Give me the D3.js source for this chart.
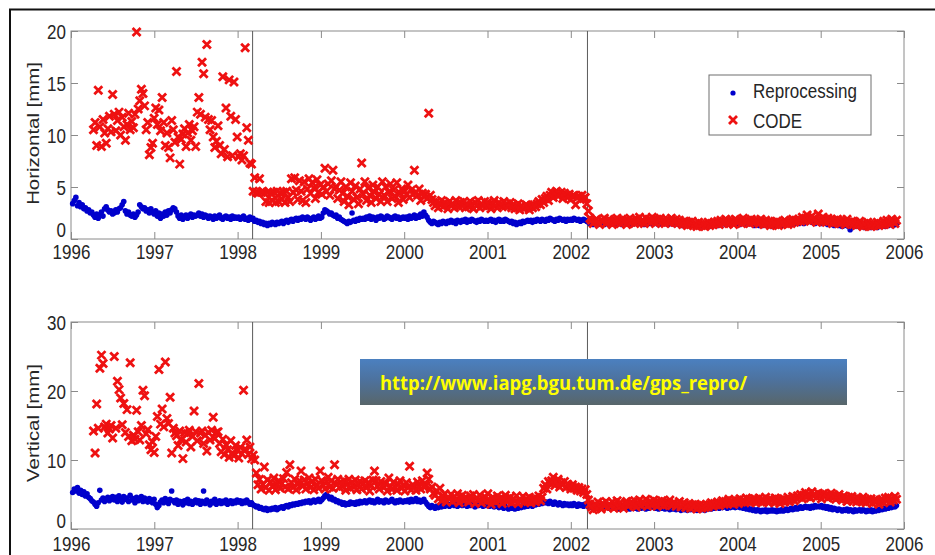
<!DOCTYPE html>
<html><head><meta charset="utf-8">
<script src="https://cdn.jsdelivr.net/npm/d3@7"></script>
<style>html,body{margin:0;padding:0;background:#fff;overflow:hidden}</style>
</head><body><svg id="chart" width="935" height="555"></svg>
<script>
// ---- data (weekly solutions, mm) ----
const weekStep = 7 / 365.25;        // one GPS week in years
const reproStart = 1996.02;         // first Reprocessing epoch
const codeStart = 1996.27;          // first CODE epoch
const yearTicks = [1996,1997,1998,1999,2000,2001,2002,2003,2004,2005,2006];
const horizTicks = [0,5,10,15,20];
const vertTicks = [0,10,20,30];
const breakEpochs = [1998.18, 2002.2];
const seriesNames = ["Reprocessing", "CODE"];
const urlText = "http://www.iapg.bgu.tum.de/gps_repro/";

const horizRepro = [
3.4,3.7,4.0,3.2,3.5,3.1,3.3,2.9,3.0,2.7,2.8,2.5,2.6,2.3,2.1,2.4,2.0,2.3,2.6,2.2,2.9,3.1,2.8,2.6,2.7,2.4,
2.5,2.8,2.6,2.9,3.0,3.3,3.6,2.7,2.4,2.6,2.3,2.2,2.4,2.1,2.3,2.6,3.3,3.1,2.9,3.0,2.7,2.8,2.5,2.9,2.6,2.4,
2.7,2.2,2.5,2.0,2.4,2.2,2.6,2.3,2.7,2.5,2.8,3.0,2.9,2.6,2.2,2.0,2.3,1.9,2.1,2.3,2.0,2.2,2.4,2.1,2.3,2.2,
2.3,2.5,2.2,2.4,2.1,2.3,2.2,2.0,2.2,2.1,1.9,2.2,2.0,2.1,2.3,2.0,1.9,2.1,2.2,2.0,2.1,1.9,2.2,2.0,2.1,2.0,
2.1,1.9,2.0,2.2,1.9,2.0,1.8,2.1,1.9,2.0,1.7,1.8,1.6,1.7,1.5,1.6,1.4,1.5,1.3,1.5,1.4,1.6,1.5,1.4,1.6,1.5,
1.6,1.7,1.5,1.7,1.8,1.6,1.8,1.9,1.7,1.9,2.0,1.8,2.0,1.9,2.1,2.0,1.9,2.1,2.0,1.8,2.0,2.1,1.9,2.0,2.2,2.0,
2.1,2.5,2.8,2.7,2.6,2.4,2.5,2.3,2.2,2.3,2.0,2.1,1.9,1.8,1.7,1.6,1.5,1.7,1.6,2.5,1.8,1.7,1.9,1.8,2.0,1.9,
2.0,1.9,2.1,2.0,2.2,1.9,2.1,2.0,1.8,2.1,2.0,2.2,2.1,1.9,2.0,2.2,2.1,2.0,1.9,2.1,2.2,2.0,2.1,1.9,2.0,2.1,
2.0,2.1,1.9,2.2,2.0,2.1,2.3,2.0,2.2,2.1,2.4,2.2,2.6,2.3,2.1,1.8,1.6,1.5,1.7,1.6,1.5,1.4,1.6,1.5,1.7,1.6,
1.5,1.7,1.6,1.8,1.6,1.7,1.5,1.8,1.7,1.6,1.8,1.7,1.9,1.6,1.8,1.7,1.9,1.8,1.7,1.6,1.8,1.7,1.9,1.8,1.7,1.8,
1.7,1.8,1.9,1.7,1.8,1.6,1.8,1.9,1.7,1.8,1.7,1.9,1.8,1.7,1.6,1.7,1.5,1.6,1.4,1.5,1.6,1.5,1.7,1.6,1.7,1.8,
1.7,1.8,1.6,1.8,1.7,1.9,1.8,1.7,1.9,1.8,1.7,1.9,1.8,2.0,1.9,1.8,1.7,1.9,1.8,2.0,1.9,1.8,1.9,1.7,1.9,1.8,
1.9,1.8,2.0,1.9,1.8,1.9,1.7,1.8,1.9,1.8,1.7,1.6,1.5,1.6,1.4,1.5,1.6,1.4,1.5,1.6,1.5,1.4,1.6,1.5,1.4,1.5,
1.5,1.6,1.4,1.5,1.6,1.5,1.4,1.6,1.5,1.7,1.5,1.6,1.4,1.5,1.6,1.5,1.7,1.6,1.5,1.6,1.4,1.5,1.6,1.5,1.6,1.5,
1.5,1.6,1.5,1.4,1.6,1.5,1.7,1.5,1.6,1.4,1.5,1.6,1.5,1.4,1.6,1.5,1.4,1.5,1.3,1.4,1.5,1.4,1.3,1.5,1.4,1.3,
1.4,1.3,1.2,1.4,1.3,1.2,1.3,1.4,1.3,1.2,1.4,1.3,1.5,1.4,1.3,1.5,1.4,1.6,1.5,1.4,1.6,1.5,1.4,1.5,1.6,1.5,
1.5,1.6,1.4,1.5,1.6,1.5,1.4,1.5,1.6,1.5,1.4,1.3,1.5,1.4,1.3,1.4,1.3,1.5,1.4,1.3,1.4,1.3,1.2,1.4,1.3,1.4,
1.3,1.4,1.3,1.5,1.4,1.5,1.6,1.5,1.4,1.6,1.5,1.7,1.6,1.5,1.7,1.6,1.5,1.7,1.6,1.8,1.7,1.6,1.7,1.5,1.6,1.7,
1.6,1.5,1.7,1.6,1.5,1.4,1.6,1.5,1.4,1.3,1.5,1.4,1.3,1.4,1.2,1.3,1.4,1.3,1.2,0.9,1.3,1.4,1.2,1.3,1.2,1.3,
1.2,1.3,1.1,1.2,1.3,1.2,1.1,1.2,1.3,1.2,1.1,1.3,1.2,1.4,1.3,1.2,1.4,1.3,1.5,1.4,1.3,1.5,1.4
];

const horizCode = [
10.5,11.2,9.0,14.3,10.8,8.9,11.5,10.2,9.2,10.6,11.8,10.3,13.9,12.0,10.4,11.4,12.2,10.0,11.7,10.8,9.5,11.0,12.1,10.5,11.3,10.7,
12.0,19.9,12.5,13.3,14.4,14.0,12.8,10.5,11.2,8.1,8.8,9.2,11.6,12.6,11.0,12.4,10.4,13.6,11.2,9.0,10.2,8.8,7.8,11.4,10.5,9.3,
16.1,9.8,7.2,9.6,10.1,10.6,8.9,10.2,11.0,9.5,10.4,10.8,8.9,12.2,13.6,12.0,17.0,15.9,11.7,18.7,11.5,10.5,11.4,9.8,8.8,9.4,
10.9,9.0,8.2,15.6,8.6,12.6,7.9,15.3,11.8,8.0,15.1,11.5,9.8,7.9,8.2,7.6,8.0,18.4,10.7,9.5,7.3,7.2,4.6,5.9,4.5,4.4,
5.8,4.5,4.6,4.4,3.6,4.5,3.5,4.4,3.7,4.5,3.5,4.6,3.6,4.4,3.8,4.5,3.5,4.6,4.0,3.6,5.8,4.5,5.9,4.7,3.8,5.6,
4.6,3.7,5.5,3.5,4.8,5.8,4.4,5.4,4.9,3.9,5.7,4.5,5.2,4.3,5.0,6.8,4.6,5.3,4.2,5.6,6.6,4.8,5.0,3.9,4.7,5.5,
4.4,3.6,5.0,4.1,3.3,5.4,4.6,3.8,5.1,4.0,3.4,4.8,7.3,4.3,5.5,3.7,4.9,4.2,3.5,5.2,4.5,3.9,5.0,4.3,3.6,5.5,
4.2,5.0,3.6,4.5,5.3,3.9,4.7,4.1,5.4,3.5,4.4,4.8,3.8,4.6,4.3,5.2,4.0,4.7,4.3,6.6,4.5,4.2,4.8,3.7,4.4,4.1,
4.3,3.9,12.1,4.2,3.8,3.5,3.2,3.6,3.0,3.4,3.7,3.1,3.5,3.3,2.9,3.6,3.2,3.4,3.0,3.7,3.3,3.1,3.5,3.2,3.6,3.0,
3.4,3.1,3.6,3.3,2.9,3.5,3.2,3.7,3.0,3.4,3.2,3.6,3.1,3.5,3.3,2.9,3.4,3.7,3.2,3.0,3.5,3.3,3.1,3.6,3.2,3.4,
3.2,3.5,3.0,3.3,2.9,3.1,3.4,2.8,3.2,3.0,2.9,3.3,3.1,2.8,3.2,3.0,3.3,3.1,3.4,3.6,3.3,3.8,3.5,3.9,4.1,3.7,
4.2,4.5,4.0,4.4,4.6,4.1,4.3,4.5,3.9,4.4,4.2,4.0,4.3,3.8,4.1,4.2,3.3,4.0,4.1,3.8,4.2,3.9,4.0,3.4,2.7,2.0,
1.8,1.5,1.7,1.9,1.6,1.4,1.8,1.7,2.0,1.5,1.6,1.9,1.7,1.4,1.8,1.6,2.0,1.7,1.5,1.9,1.6,1.8,1.4,1.7,2.0,1.6,
1.8,1.5,1.9,1.7,2.1,1.6,1.8,1.5,2.0,1.7,1.9,1.6,2.1,1.8,1.5,1.9,1.7,2.0,1.6,1.8,1.5,1.9,1.7,1.6,2.0,1.7,
1.6,1.9,1.5,1.8,1.6,1.4,1.7,1.5,1.3,1.6,1.4,1.7,1.3,1.5,1.2,1.6,1.4,1.3,1.5,1.2,1.4,1.6,1.3,1.5,1.4,1.6,
1.5,1.7,1.4,1.8,1.6,1.5,1.9,1.7,1.5,1.8,1.6,1.4,1.9,1.7,1.6,1.8,1.5,2.0,1.7,1.6,1.8,1.5,1.9,1.7,1.6,1.8,
1.7,1.5,1.9,1.6,1.4,1.8,1.5,1.7,1.3,1.6,1.4,1.5,1.7,1.3,1.6,1.4,1.5,1.8,1.6,1.4,1.7,1.5,1.9,1.6,1.8,1.7,
1.9,1.7,2.1,1.8,2.0,2.3,1.9,1.7,2.2,1.8,2.0,1.6,2.4,1.9,1.7,2.1,1.8,1.6,2.0,1.7,1.9,1.5,1.8,1.6,1.9,1.7,
1.5,1.8,1.6,1.4,1.9,1.6,1.5,1.7,1.4,1.6,1.3,1.5,1.7,1.4,1.2,1.5,1.3,1.6,1.4,1.2,1.5,1.3,1.4,1.6,1.3,1.5,
1.4,1.7,1.5,1.8,1.6,1.4,1.9,1.7,1.5,1.8
];

const vertRepro = [
5.3,5.8,5.5,6.0,5.2,5.6,5.0,5.4,4.8,5.1,4.6,4.4,4.1,3.9,3.6,3.3,3.8,5.6,4.2,4.5,4.0,4.3,4.6,4.1,4.4,4.7,
4.2,4.6,4.0,4.8,4.4,3.9,4.7,4.3,4.5,4.0,4.9,4.2,4.4,3.8,4.6,4.1,4.3,4.7,4.0,4.5,4.2,3.9,4.4,4.1,3.8,4.3,
3.6,3.1,3.4,3.9,4.2,3.8,4.4,4.0,3.7,4.3,5.5,4.1,3.8,4.2,3.6,4.0,3.9,3.5,4.1,3.8,4.3,3.7,4.0,3.6,3.9,4.2,
3.8,4.1,3.6,4.0,5.5,3.7,4.2,3.9,3.5,4.0,3.8,4.3,3.6,3.9,4.1,3.7,4.0,3.8,4.2,3.6,3.9,4.1,3.7,4.0,3.8,4.2,
3.9,4.1,3.7,4.0,3.8,4.2,3.9,3.6,3.8,3.5,3.4,3.2,3.3,3.0,3.1,2.9,2.8,3.0,2.7,2.9,2.8,3.0,2.9,3.1,2.8,3.0,
3.1,3.2,3.0,3.3,3.4,3.2,3.5,3.4,3.6,3.5,3.7,3.6,3.8,3.7,3.9,3.8,4.0,3.9,4.1,3.8,4.0,4.2,3.9,4.1,4.3,4.0,
4.2,4.5,4.8,5.0,4.7,4.4,4.6,4.2,4.3,4.0,4.1,3.8,3.9,3.6,3.8,3.5,3.7,3.6,3.9,3.7,3.8,3.6,3.9,3.7,4.0,3.8,
3.9,4.1,3.8,4.0,4.2,3.9,4.1,3.8,4.0,4.3,3.9,4.1,4.0,3.8,4.2,4.0,3.9,4.1,4.3,4.0,3.8,4.1,3.9,4.2,4.0,3.9,
4.1,4.0,4.2,3.9,4.3,4.0,4.1,4.4,4.0,4.2,3.9,4.1,4.3,3.9,3.6,3.3,3.1,3.4,3.2,3.0,3.3,3.1,3.4,3.2,3.5,3.3,
3.4,3.6,3.3,3.5,3.7,3.4,3.6,3.3,3.5,3.8,3.4,3.6,3.5,3.3,3.7,3.4,3.6,3.5,3.2,3.6,3.4,3.7,3.5,3.3,3.6,3.4,
3.5,3.3,3.6,3.4,3.2,3.5,3.3,3.1,3.4,3.2,3.0,3.3,3.1,2.9,3.2,3.0,3.1,2.9,3.2,3.0,3.3,3.1,3.4,3.2,3.5,3.3,
3.4,3.6,3.3,3.7,3.5,3.8,3.6,3.9,3.7,4.0,3.8,3.9,3.7,4.0,3.8,3.6,3.9,3.7,3.5,3.8,3.6,3.4,3.7,3.5,3.6,3.4,
3.6,3.4,3.7,3.5,3.3,3.6,3.4,3.5,3.3,3.6,3.4,3.2,3.3,3.1,3.4,3.2,3.0,3.3,3.1,3.2,3.4,3.1,3.3,3.2,3.0,3.3,
3.2,3.0,3.3,3.1,2.9,3.2,3.0,3.3,3.1,3.0,3.2,2.9,3.1,3.3,3.0,3.2,2.9,3.1,3.0,3.2,3.1,2.9,3.2,3.0,3.1,3.3,
3.1,3.0,3.2,2.9,3.1,3.0,3.2,2.9,3.0,3.1,2.8,3.0,2.9,3.1,2.8,3.0,2.9,2.7,3.0,2.8,2.9,2.7,3.0,2.8,2.9,2.8,
2.9,2.7,2.8,3.0,2.8,2.9,2.7,3.0,2.9,3.1,2.9,3.2,3.0,3.1,3.3,3.0,3.2,3.1,3.3,3.2,3.0,3.3,3.1,3.2,3.4,3.1,
3.2,3.3,3.1,3.2,3.0,3.1,2.9,3.0,2.8,2.9,2.7,2.8,2.6,2.8,2.7,2.5,2.7,2.6,2.8,2.5,2.7,2.6,2.8,2.6,2.7,2.5,
2.7,2.6,2.8,2.6,2.7,2.9,2.7,2.8,3.0,2.8,2.9,3.1,2.9,3.0,3.2,3.0,3.1,3.3,3.1,3.2,3.0,3.3,3.1,3.4,3.2,3.3,
3.2,3.4,3.1,3.3,3.0,3.2,2.9,3.1,2.8,3.0,2.9,2.7,2.9,2.8,2.6,2.8,2.7,2.9,2.6,2.8,2.7,2.5,2.8,2.6,2.7,2.8,
2.6,2.8,2.7,2.5,2.7,2.6,2.8,2.5,2.7,2.6,2.8,2.7,2.9,2.8,3.0,2.9,3.1,3.0,3.2,3.1,3.3,3.2,3.4
];

const vertCode = [
14.2,11.0,18.1,14.6,23.3,25.2,24.0,14.8,15.2,13.9,14.5,15.0,13.2,25.0,14.6,21.4,20.2,19.0,15.1,18.2,14.0,17.3,13.4,24.1,12.8,13.6,
13.0,17.2,14.1,12.9,15.0,20.1,19.3,13.8,14.4,12.2,11.5,12.6,11.1,13.4,16.3,23.1,15.2,17.4,14.8,24.2,16.0,15.3,19.1,11.0,14.6,13.9,
13.5,12.1,14.2,13.0,10.2,14.0,12.6,13.8,14.3,11.9,13.4,17.1,14.1,12.8,21.1,13.9,14.2,12.4,13.6,11.3,14.0,12.9,14.3,16.2,13.1,14.0,
14.1,12.4,11.2,13.0,10.8,12.2,11.5,10.4,12.8,11.0,10.6,12.1,11.4,10.3,11.8,10.9,20.1,11.6,12.9,10.8,11.9,10.2,10.7,10.0,8.1,6.4,
7.2,5.8,6.5,9.0,6.0,7.1,5.6,6.8,6.2,7.4,5.7,6.4,7.0,5.9,6.6,7.3,6.1,8.2,5.8,9.3,6.7,6.0,7.2,5.7,6.5,7.0,
8.4,6.2,7.1,5.8,6.6,7.4,6.0,6.9,5.7,7.2,6.4,5.9,8.4,7.0,6.3,5.8,6.8,7.5,6.1,7.0,5.9,9.3,6.5,7.2,6.0,6.8,
6.2,7.0,5.6,6.5,7.2,5.9,6.8,6.1,7.1,5.7,6.4,6.9,5.8,6.6,7.0,6.0,6.7,5.5,6.3,7.1,8.4,7.0,6.2,5.8,6.9,6.3,
6.0,6.6,5.5,7.4,6.2,5.8,6.8,6.1,5.6,6.5,7.0,5.9,6.3,5.5,6.7,6.0,9.1,5.7,6.4,6.1,5.6,6.8,6.2,5.8,7.0,6.1,
6.3,8.1,7.2,5.8,6.1,5.2,4.9,5.5,4.4,5.9,4.1,4.8,5.1,3.9,4.6,4.3,5.0,4.0,4.7,4.2,5.1,3.8,4.5,4.9,4.1,4.6,
4.4,3.9,4.8,4.2,5.0,3.7,4.5,4.1,4.9,3.8,4.3,4.7,4.0,5.1,4.2,3.6,4.6,4.4,3.9,4.8,4.1,4.5,3.7,4.3,4.9,4.0,
4.2,4.6,3.8,4.4,4.0,4.8,3.7,4.3,4.1,4.7,3.9,4.4,4.0,4.6,3.8,4.2,4.5,3.9,4.3,4.8,4.1,4.6,5.9,6.4,5.8,6.9,
6.6,7.0,7.5,6.3,6.8,7.2,6.1,6.7,6.4,6.9,6.0,6.5,6.2,5.8,6.4,5.9,6.1,5.6,6.0,5.5,5.8,5.3,5.7,5.0,4.2,3.6,
3.2,2.8,3.6,3.0,3.9,3.3,2.9,3.7,3.4,4.0,3.1,3.6,3.3,3.9,3.0,3.5,4.1,3.2,3.8,3.4,3.0,3.7,4.0,3.3,3.6,3.9,
3.5,4.1,3.2,3.8,4.2,3.4,3.9,3.6,4.3,3.3,3.8,4.0,3.5,4.2,3.7,3.3,4.0,3.6,4.1,3.4,3.9,3.5,3.8,4.2,3.4,3.7,
3.8,3.3,3.6,4.0,3.2,3.5,3.8,3.1,3.4,3.7,3.0,3.5,3.2,3.6,2.9,3.3,3.5,3.0,3.4,3.1,3.6,3.2,3.5,3.8,3.3,3.7,
3.5,3.9,3.4,3.8,4.1,3.6,4.0,3.7,4.3,3.8,4.1,3.6,4.2,4.0,3.7,4.4,3.9,4.2,3.8,4.5,4.0,4.3,3.9,4.1,4.4,3.8,
4.2,4.5,3.9,4.3,4.0,4.6,4.1,3.8,4.4,4.2,3.9,4.5,4.0,4.3,3.7,4.1,4.4,3.9,4.2,4.6,4.0,4.3,4.7,4.1,4.5,4.8,
4.6,5.0,4.4,4.9,5.3,4.7,5.1,4.5,5.4,4.8,5.0,4.6,5.2,4.9,4.4,5.1,4.7,5.0,4.5,4.8,5.2,4.6,4.9,4.3,4.7,5.0,
4.5,4.2,4.8,4.4,4.0,4.6,4.3,4.7,4.1,4.4,3.9,4.5,4.2,4.0,4.6,4.1,3.8,4.3,4.0,4.4,3.7,4.2,3.9,4.1,3.6,4.0,
4.3,3.8,4.5,4.1,4.6,3.9,4.4,4.2,4.7,4.3
];

// ---- drawing ----
const W = 935, H = 555;
const FONT = "'Liberation Sans', Arial, Helvetica, sans-serif";
const svg = d3.select("#chart");
svg.append("rect").attr("width", W).attr("height", H).attr("fill", "#fff");

const defs = svg.append("defs");
const grad = defs.append("linearGradient").attr("id", "urlGrad")
  .attr("x1", 0).attr("y1", 0).attr("x2", 0).attr("y2", 1);
grad.append("stop").attr("offset", "0%").attr("stop-color", "#4b80c0");
grad.append("stop").attr("offset", "45%").attr("stop-color", "#4d729e");
grad.append("stop").attr("offset", "100%").attr("stop-color", "#58666a");

// outer frame (top and left edges)
svg.append("path").attr("d", "M10,555V9.5H935").attr("fill", "none")
  .attr("stroke", "#111").attr("stroke-width", 2);

const x = d3.scaleLinear().domain([1996, 2006]).range([71, 904]);
const SY = 1.2;
const boxColor = "#8a8a8a";
const textColor = "#262626";
const reproColor = "#0000cc";
const codeColor = "#ee1111";
const dotR = 2.8;

const panels = [
  { label: "Horizontal [mm]", top: 31, bottom: 239, domain: [0, 20], ticks: horizTicks,
    repro: horizRepro, code: horizCode, labelY: 133.5, xLabBase: 258.5, zeroBase: 236.5 },
  { label: "Vertical [mm]", top: 322, bottom: 529, domain: [0, 30], ticks: vertTicks,
    repro: vertRepro, code: vertCode, labelY: 423, xLabBase: 551, zeroBase: 527.5 }
];

const xPath = "M-4,-4L4,4M-4,4L4,-4";

panels.forEach((p, pi) => {
  const y = d3.scaleLinear().domain(p.domain).range([p.bottom, p.top]);
  const g = svg.append("g");

  g.append("rect").attr("x", x(1996)).attr("y", p.top)
    .attr("width", x(2006) - x(1996)).attr("height", p.bottom - p.top)
    .attr("fill", "#fff").attr("stroke", boxColor).attr("stroke-width", 1);

  // axes
  const styleAxis = sel => {
    sel.select(".domain").remove();
    sel.selectAll(".tick line").attr("stroke", boxColor);
    sel.attr("font-family", FONT).attr("font-size", 17);
  };
  const gb = g.append("g").attr("transform", `translate(0,${p.bottom})`)
    .call(d3.axisBottom(x).tickValues(yearTicks).tickSizeInner(-7).tickSizeOuter(0).tickFormat(d3.format("d")));
  styleAxis(gb);
  gb.selectAll("text").attr("y", null).attr("dy", null).attr("fill", textColor)
    .attr("transform", `translate(0,${p.xLabBase - p.bottom}) scale(1,${SY})`);

  const gt = g.append("g").attr("transform", `translate(0,${p.top})`)
    .call(d3.axisTop(x).tickValues(yearTicks).tickSizeInner(-7).tickSizeOuter(0).tickFormat(""));
  styleAxis(gt); gt.selectAll("text").remove();

  const gl = g.append("g").attr("transform", `translate(${x(1996)},0)`)
    .call(d3.axisLeft(y).tickValues(p.ticks).tickSizeInner(-7).tickSizeOuter(0).tickFormat(d3.format("d")));
  styleAxis(gl);
  gl.selectAll("text").attr("x", null).attr("dy", null).attr("fill", textColor)
    .attr("text-anchor", "end")
    .attr("transform", d => `translate(-5,${d === 0 ? p.zeroBase - p.bottom : 7.3}) scale(1,${SY})`);

  const gr = g.append("g").attr("transform", `translate(${x(2006)},0)`)
    .call(d3.axisRight(y).tickValues(p.ticks).tickSizeInner(-7).tickSizeOuter(0).tickFormat(""));
  styleAxis(gr); gr.selectAll("text").remove();

  // break lines
  g.selectAll("line.brk").data(breakEpochs).join("line").attr("class", "brk")
    .attr("x1", d => x(d)).attr("x2", d => x(d))
    .attr("y1", p.top).attr("y2", p.bottom)
    .attr("stroke", "#5a5a5a").attr("stroke-width", 1);

  // y label
  g.append("text").text(p.label)
    .attr("transform", `translate(39,${p.labelY}) scale(1,${SY}) rotate(-90)`)
    .attr("text-anchor", "middle").attr("font-family", FONT).attr("font-size", 17)
    .attr("fill", textColor);

  // data
  const rep = p.repro.map((v, i) => ({ t: reproStart + i * weekStep, v }));
  const cod = p.code.map((v, i) => ({ t: codeStart + i * weekStep, v }));
  g.append("g").selectAll("circle").data(rep).join("circle")
    .attr("cx", d => x(d.t)).attr("cy", d => y(d.v)).attr("r", dotR)
    .attr("fill", reproColor);
  g.append("g").selectAll("path").data(cod).join("path")
    .attr("d", xPath).attr("transform", d => `translate(${x(d.t)},${y(d.v)})`)
    .attr("fill", "none").attr("stroke", codeColor).attr("stroke-width", 2.8)
    .attr("stroke-linecap", "butt");

  if (pi === 0) {
    const lg = g.append("g");
    lg.append("rect").attr("x", 709).attr("y", 75).attr("width", 162).attr("height", 60)
      .attr("fill", "#fff").attr("stroke", "#6e6e6e").attr("stroke-width", 1);
    lg.append("circle").attr("cx", 733).attr("cy", 93).attr("r", 2.6).attr("fill", reproColor);
    lg.append("path").attr("d", xPath).attr("transform", "translate(733,120)")
      .attr("fill", "none").attr("stroke", codeColor).attr("stroke-width", 2.8);
    [[seriesNames[0], 98], [seriesNames[1], 127.5]].forEach(([s, by]) => {
      lg.append("text").text(s).attr("transform", `translate(753,${by}) scale(1,${SY})`)
        .attr("font-family", FONT).attr("font-size", 17).attr("fill", textColor);
    });
  }
});

// URL banner
svg.append("rect").attr("x", 360).attr("y", 359).attr("width", 487).attr("height", 46)
  .attr("fill", "url(#urlGrad)");
svg.append("text").text(urlText).attr("x", 380).attr("y", 390)
  .attr("font-family", "'Open Sans', 'DejaVu Sans', sans-serif").attr("font-weight", "bold")
  .attr("font-size", 19).attr("fill", "#ffff00")
  .attr("textLength", 367).attr("lengthAdjust", "spacingAndGlyphs");
</script>
</body></html>
